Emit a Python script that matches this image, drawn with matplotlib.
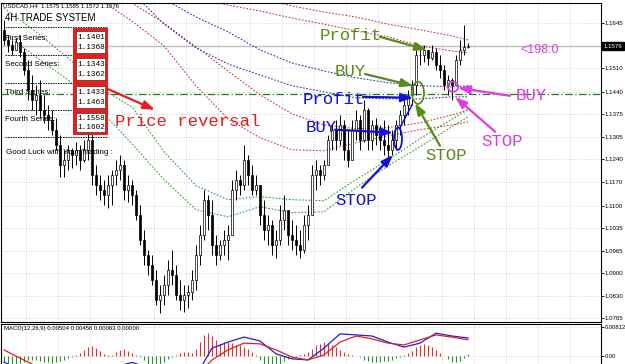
"""
USDCAD H4 screenshot remake: candles, dotted MA bands, hand-drawn trade notes
and a MACD pane underneath. Layout is pinned in pixels to a 625x364 canvas.
"""
import numpy as np
import matplotlib
matplotlib.use("Agg")
import matplotlib.pyplot as plt
from matplotlib.lines import Line2D
from matplotlib.patches import Ellipse, Rectangle
from matplotlib.transforms import blended_transform_factory

plt.rcParams["font.family"] = ["Liberation Sans", "DejaVu Sans"]

W, H = 625, 364

# ---- price bars (one per H4 candle) ----
first_open = 1.1625
highs = [
    1.1654, 1.1610, 1.1595, 1.1601, 1.1610, 1.1571, 1.1535, 1.1490, 1.1461, 1.1476,
    1.1431, 1.1401, 1.1386, 1.1362, 1.1311, 1.1267, 1.1281, 1.1273, 1.1291, 1.1281,
    1.1296, 1.1321, 1.1332, 1.1222, 1.1192, 1.1177, 1.1192, 1.1207, 1.1237, 1.1252,
    1.1237, 1.1192, 1.1177, 1.1147, 1.1102, 1.1028, 1.0968, 1.0953, 1.0909, 1.0864,
    1.0894, 1.0938, 1.0968, 1.0923, 1.0879, 1.0864, 1.0864, 1.0909, 1.0983, 1.1043,
    1.1147, 1.1132, 1.1117, 1.1013, 1.0998, 1.1028, 1.1043, 1.1177, 1.1207, 1.1192,
    1.1281, 1.1252, 1.1222, 1.1192, 1.1162, 1.1117, 1.1073, 1.1058, 1.1028, 1.1102,
    1.1132, 1.1087, 1.1058, 1.1043, 1.1028, 1.1073, 1.1102, 1.1222, 1.1237, 1.1222,
    1.1237, 1.1311, 1.1341, 1.1356, 1.1371, 1.1356, 1.1326, 1.1356, 1.1386, 1.1371,
    1.1416, 1.1392, 1.1356, 1.1362, 1.1341, 1.1356, 1.1341, 1.1326, 1.1356, 1.1386,
    1.1416, 1.1446, 1.1476, 1.1565, 1.1571, 1.1580, 1.1565, 1.1580, 1.1571, 1.1550,
    1.1520, 1.1490, 1.1482, 1.1550, 1.1595, 1.1639, 1.1585,
]
lows = [
    1.1580, 1.1559, 1.1550, 1.1565, 1.1544, 1.1490, 1.1416, 1.1386, 1.1371, 1.1362,
    1.1347, 1.1326, 1.1311, 1.1267, 1.1186, 1.1186, 1.1207, 1.1213, 1.1222, 1.1207,
    1.1231, 1.1237, 1.1162, 1.1132, 1.1117, 1.1102, 1.1093, 1.1102, 1.1162, 1.1177,
    1.1117, 1.1111, 1.1102, 1.1058, 1.0983, 1.0923, 1.0894, 1.0864, 1.0804, 1.0781,
    1.0804, 1.0834, 1.0864, 1.0819, 1.0789, 1.0784, 1.0796, 1.0819, 1.0849, 1.0923,
    1.0998, 1.1028, 1.0953, 1.0923, 1.0938, 1.0953, 1.0938, 1.1013, 1.1117, 1.1132,
    1.1147, 1.1162, 1.1132, 1.1132, 1.1043, 1.0998, 1.0983, 1.0953, 1.0945, 1.0983,
    1.1028, 1.0983, 1.0968, 1.0953, 1.0945, 1.0960, 1.0998, 1.1073, 1.1147, 1.1162,
    1.1177, 1.1222, 1.1267, 1.1267, 1.1281, 1.1237, 1.1216, 1.1237, 1.1296, 1.1267,
    1.1290, 1.1267, 1.1267, 1.1281, 1.1267, 1.1252, 1.1237, 1.1252, 1.1267, 1.1311,
    1.1341, 1.1371, 1.1401, 1.1431, 1.1520, 1.1529, 1.1520, 1.1535, 1.1505, 1.1482,
    1.1446, 1.1431, 1.1416, 1.1461, 1.1520, 1.1550, 1.1572,
]
closes = [
    1.1595, 1.1580, 1.1565, 1.1589, 1.1559, 1.1505, 1.1446, 1.1416, 1.1431, 1.1386,
    1.1371, 1.1356, 1.1326, 1.1281, 1.1222, 1.1237, 1.1267, 1.1252, 1.1267, 1.1237,
    1.1267, 1.1296, 1.1192, 1.1162, 1.1147, 1.1132, 1.1162, 1.1192, 1.1207, 1.1222,
    1.1147, 1.1162, 1.1132, 1.1073, 1.0998, 1.0953, 1.0923, 1.0879, 1.0819, 1.0834,
    1.0864, 1.0909, 1.0894, 1.0834, 1.0819, 1.0834, 1.0843, 1.0879, 1.0953, 1.1013,
    1.1117, 1.1073, 1.0983, 1.0953, 1.0983, 1.0998, 1.1013, 1.1147, 1.1177, 1.1162,
    1.1237, 1.1192, 1.1147, 1.1162, 1.1073, 1.1028, 1.1043, 1.0983, 1.0998, 1.1058,
    1.1087, 1.1013, 1.0998, 1.0983, 1.0968, 1.1043, 1.1073, 1.1192, 1.1207, 1.1192,
    1.1222, 1.1296, 1.1326, 1.1296, 1.1341, 1.1267, 1.1237, 1.1326, 1.1356, 1.1296,
    1.1386, 1.1296, 1.1341, 1.1311, 1.1296, 1.1281, 1.1267, 1.1296, 1.1341, 1.1371,
    1.1401, 1.1431, 1.1461, 1.1550, 1.1550, 1.1565, 1.1541, 1.1559, 1.1520, 1.1505,
    1.1461, 1.1476, 1.1461, 1.1535, 1.1565, 1.1575, 1.1576,
]

# ---- dotted MA bands, sampled every 8 bars ----
band_bars = [0, 8, 16, 24, 32, 40, 48, 56, 64, 72, 80, 88, 96, 104, 112, 116]
red_top1 = [1.2161, 1.2101, 1.2042, 1.1982, 1.1923, 1.1869, 1.1818, 1.1768,
            1.1723, 1.1696, 1.1678, 1.1663, 1.1642, 1.1625, 1.1607, 1.1595]
red_top2 = [1.2072, 1.2012, 1.1952, 1.1893, 1.1833, 1.1774, 1.1720, 1.1699,
            1.1681, 1.1660, 1.1642, 1.1622, 1.1604, 1.1577, 1.1562, 1.1556]
blue_up = [1.2042, 1.1982, 1.1923, 1.1848, 1.1780, 1.1717, 1.1663, 1.1619,
           1.1565, 1.1526, 1.1502, 1.1482, 1.1467, 1.1458, 1.1455, 1.1458]
blue_dn = [1.2012, 1.1946, 1.1878, 1.1803, 1.1738, 1.1642, 1.1571, 1.1523,
           1.1490, 1.1458, 1.1440, 1.1422, 1.1419, 1.1419, 1.1425, 1.1425]
red_lo2 = [1.1982, 1.1908, 1.1833, 1.1768, 1.1705, 1.1645, 1.1574, 1.1502,
           1.1431, 1.1374, 1.1341, 1.1330, 1.1333, 1.1347, 1.1371, 1.1386]
red_lo1 = [1.1923, 1.1848, 1.1774, 1.1714, 1.1651, 1.1577, 1.1458, 1.1359,
           1.1303, 1.1267, 1.1264, 1.1288, 1.1309, 1.1327, 1.1341, 1.1350]
green_up = [1.1690, 1.1619, 1.1541, 1.1452, 1.1395, 1.1261, 1.1160, 1.1118,
            1.1127, 1.1118, 1.1115, 1.1178, 1.1237, 1.1300, 1.1359, 1.1386]
green_dn = [1.1616, 1.1544, 1.1476, 1.1386, 1.1285, 1.1178, 1.1088, 1.1067,
            1.1097, 1.1079, 1.1082, 1.1154, 1.1219, 1.1276, 1.1336, 1.1365]

entry_level = 1.1433
bid = 1.1576

price_ticks = [1.1645, 1.1510, 1.1440, 1.1375, 1.1305, 1.1240, 1.1170,
               1.1100, 1.1035, 1.0965, 1.0900, 1.0830, 1.0765]

# ---- MACD(12,26,9) ----
macd_bars = [0, 4, 8, 12, 16, 20, 24, 28, 32, 36, 40, 44, 48, 52, 56,
             60, 64, 68, 72, 76, 80, 84, 88, 92, 96, 100, 104, 108, 112, 116]
macd_main = [-0.0017, -0.0039, -0.0062, -0.0081, -0.0090, -0.0081, -0.0062, -0.0030,
             -0.0018, -0.0032, -0.0081, -0.0095, -0.0056, 0.0022, 0.0039, 0.0053,
             0.0042, 0.0006, -0.0008, -0.0011, 0.0022, 0.0062, 0.0059, 0.0056,
             0.0039, 0.0025, 0.0036, 0.0064, 0.0056, 0.00504]
macd_signal = [0.0017, -0.0006, -0.0028, -0.0050, -0.0067, -0.0076, -0.0073, -0.0040,
               -0.0024, -0.0030, -0.0062, -0.0073, -0.0056, -0.0011, 0.0017, 0.0036,
               0.0034, 0.0017, -0.0003, -0.0011, 0.0003, 0.0039, 0.0056, 0.0048,
               0.0036, 0.0031, 0.0045, 0.0059, 0.0053, 0.00456]
osma = [
    -0.0018, -0.0022, -0.0024, -0.0023, -0.0020, -0.0016, -0.0012, -0.0010, -0.0012, -0.0014,
    -0.0016, -0.0018, -0.0020, -0.0018, -0.0014, -0.0010, -0.0006, -0.0003, 0.0003, 0.0008,
    0.0016, 0.0024, 0.0028, 0.0022, 0.0014, 0.0006, 0.0002, 0.0004, 0.0010, 0.0018,
    0.0020, 0.0015, 0.0008, 0.0002, -0.0004, -0.0012, -0.0022, -0.0028, -0.0030, -0.0026,
    -0.0018, -0.0008, -0.0002, 0.0004, 0.0008, 0.0012, 0.0010, 0.0008, 0.0020, 0.0040,
    0.0060, 0.0065, 0.0055, 0.0045, 0.0035, 0.0038, 0.0040, 0.0036, 0.0032, 0.0030,
    0.0026, 0.0020, 0.0012, 0.0002, -0.0010, -0.0025, -0.0032, -0.0034, -0.0030, -0.0022,
    -0.0014, -0.0008, -0.0004, -0.0002, 0.0002, 0.0006, 0.0010, 0.0020, 0.0030, 0.0035,
    0.0038, 0.0036, 0.0030, 0.0024, 0.0016, 0.0010, 0.0006, 0.0003, 0.0001, -0.0003,
    -0.0010, -0.0014, -0.0016, -0.0017, -0.0016, -0.0015, -0.0013, -0.0010, -0.0006, -0.0002,
    0.0002, 0.0008, 0.0014, 0.0024, 0.0032, 0.0034, 0.0030, 0.0024, 0.0016, 0.0008,
    0.0000, -0.0008, -0.0016, -0.0018, -0.0014, -0.0006, 0.0006,
]

series_boxes = [("First Series:", "1.1401", "1.1368"),
                ("Second Series:", "1.1343", "1.1362"),
                ("Third Series:", "1.1433", "1.1463"),
                ("Fourth Series:", "1.1558", "1.1602")]

GREEN = "#5a8a1e"
BLUE = "#1010d8"
MAGENTA = "#e03be0"
RED = "#e41e1e"
GRID = "#c4c4c4"
NOTE_FONT = "Liberation Mono"
TICK_SIZE = 4.4


def fpx(x, y):
    """pixel position on the 625x364 canvas -> figure fraction"""
    return x / W, 1 - y / H


fig = plt.figure(figsize=(W / 100, H / 100), dpi=100)
ax = fig.add_axes([1 / W, 1 - 322 / H, 600 / W, 319 / H])
mx = fig.add_axes([1 / W, 0, 600 / W, 40 / H])

xlim = (-0.75, 149.25)
grid_x = np.arange(5.5, 149, 8)

# ---------- price pane ----------
n = len(closes)
idx = np.arange(n)
opens = np.array([first_open] + closes[:-1])
cl = np.array(closes)
up = cl >= opens

ax.vlines(idx, lows, highs, color="black", lw=0.7, zorder=3)
ax.bar(idx[up], (cl - opens)[up], bottom=opens[up], width=0.6,
       facecolor="white", edgecolor="black", lw=0.5, zorder=4)
ax.bar(idx[~up], (cl - opens)[~up], bottom=opens[~up], width=0.6,
       facecolor="black", edgecolor="black", lw=0.5, zorder=4)

dot = (0, (1.6, 1.6))
for vals, col in [(red_top1, "#c0392b"), (red_top2, "#c0392b"),
                  (red_lo1, "#c0392b"), (red_lo2, "#c0392b"),
                  (blue_up, "#2a2ab8"), (blue_dn, "#2a2ab8"),
                  (green_up, "#2f9a2f"), (green_dn, "#2f9a2f")]:
    ax.plot(band_bars, vals, color=col, lw=0.75, linestyle=dot, zorder=2)

ax.axhline(entry_level, color="#1e7a1e", lw=0.9, linestyle=(0, (6, 2, 1, 2)), zorder=2)
ax.axhline(bid, color="#bdbdbd", lw=1.0, zorder=1.5)

ax.set_xlim(*xlim)
ax.set_ylim(1.0753, 1.1705)
ax.set_xticks(grid_x)
ax.set_yticks(price_ticks)
ax.set_yticklabels([f"{v:.4f}" for v in price_ticks])
ax.yaxis.tick_right()
ax.tick_params(axis="y", length=2, width=0.6, labelsize=TICK_SIZE, pad=0.8)
ax.tick_params(axis="x", length=0, labelbottom=False)
ax.grid(True, color=GRID, lw=0.6, linestyle=(0, (1, 2)), zorder=0)
for s in ax.spines.values():
    s.set_color("black")
    s.set_linewidth(0.8)

ytrans = blended_transform_factory(ax.transAxes, ax.transData)
ax.text(1.004, bid, f"{bid:.4f}", transform=ytrans, fontsize=TICK_SIZE, color="white",
        va="center", ha="left",
        bbox=dict(boxstyle="square,pad=0.25", fc="black", ec="black"), zorder=10)

# ---------- hand-drawn trade notes ----------
arrow = dict(arrowstyle="-|>,head_length=0.7,head_width=0.25", lw=1.6,
             shrinkA=0, shrinkB=0)


def note(text, pos, tail, head, color, size=12.5, family=NOTE_FONT):
    ax.text(pos[0], pos[1], text, color=color, fontsize=size, fontfamily=family,
            va="center", ha="left", zorder=8)
    if tail is not None:
        ax.annotate("", xy=head, xytext=tail,
                    arrowprops=dict(arrow, color=color), zorder=9)


note("Profit", (79.0, 1.1607), (94.0, 1.1604), (105.75, 1.1565), GREEN)
note("BUY", (82.75, 1.1502), (90.25, 1.1493), (102.25, 1.1458), GREEN)
note("STOP", (105.25, 1.1249), (109.0, 1.1279), (102.75, 1.1407), GREEN)
note("Profit", (74.75, 1.1416), (89.75, 1.1425), (102.25, 1.1422), BLUE)
note("BUY", (75.5, 1.1332), (82.75, 1.1327), (97.25, 1.1318), BLUE)
note("STOP", (82.75, 1.1117), (89.5, 1.1154), (97.25, 1.1252), BLUE)
note("BUY", (128.0, 1.1428), (126.5, 1.1428), (113.5, 1.1452), MAGENTA)
note("STOP", (119.25, 1.1291), (122.75, 1.1321), (112.75, 1.1425), MAGENTA)
note("Price reversal", (27.75, 1.1350), (25.25, 1.1452), (37.75, 1.1386), RED)
note("<198:0", (129.0, 1.1565), None, None, MAGENTA, size=9,
     family="Liberation Sans")

ax.plot([99, 102], [1.1333, 1.1401], color=BLUE, lw=1.1, zorder=8)
for (cx, cy, w, h, col) in [(103.5, 1.1437, 3.0, 0.0066, GREEN),
                            (98.5, 1.1300, 2.0, 0.0066, BLUE),
                            (112.25, 1.1455, 2.6, 0.0030, MAGENTA)]:
    ax.add_patch(Ellipse((cx, cy), w, h, fill=False, ec=col, lw=1.3, zorder=8))

# ---------- indicator text panel (top-left) ----------
fig.text(*fpx(3, 6), "USDCAD,H4  1.1575 1.1585 1.1572 1.1576", fontsize=4.3,
         va="center", zorder=12)
fig.text(*fpx(5, 18), "4H TRADE SYSTEM", fontsize=7, va="center", zorder=12)
for yy in (27, 55, 83, 110, 137):
    fig.add_artist(Line2D([5 / W, 107 / W], [1 - yy / H] * 2, color="black",
                          lw=0.6, linestyle=(0, (2, 1)), zorder=11))
fig.add_artist(Rectangle(fpx(73, 135), 35 / W, 107 / H, transform=fig.transFigure,
                         fc="#ee1b1b", ec="none", zorder=12))
for k, (label, a, b) in enumerate(series_boxes):
    top = [31, 58, 86, 113][k]
    hgt = [22, 22, 22, 19][k]
    fig.text(*fpx(5, [38, 65, 92, 120][k]), label, fontsize=5.8, va="center",
             zorder=12)
    fig.add_artist(Rectangle(fpx(76, top + hgt), 29 / W, hgt / H,
                             transform=fig.transFigure, fc="white", ec="#333333",
                             lw=0.5, zorder=13))
    fig.text(*fpx(77, top + hgt * 0.28), a, fontsize=5.6, va="center",
             fontfamily=NOTE_FONT, zorder=14)
    fig.text(*fpx(77, top + hgt * 0.74), b, fontsize=5.6, va="center",
             fontfamily=NOTE_FONT, zorder=14)
fig.text(*fpx(6, 152), "Good Luck with Your Trading :", fontsize=5.8,
         va="center", zorder=12)

# ---------- MACD pane ----------
osma = np.array(osma)
pos = osma >= 0
mx.vlines(idx[pos], 0, osma[pos], color="#e03030", lw=0.8, zorder=3)
mx.vlines(idx[~pos], 0, osma[~pos], color="#2a8f2a", lw=0.8, zorder=3)
mx.plot(macd_bars, macd_main, color="#2020d0", lw=0.9, zorder=4)
mx.plot(macd_bars, macd_signal, color="#e02020", lw=0.9, zorder=4)
mx.set_xlim(*xlim)
mx.set_ylim(-0.00224, 0.00896)
mx.set_xticks(grid_x)
mx.set_yticks([0.0, 0.00812])
mx.set_yticklabels(["0.00", "0.00812"])
mx.yaxis.tick_right()
mx.tick_params(axis="y", length=2, width=0.6, labelsize=4.2, pad=0.8)
mx.tick_params(axis="x", length=0, labelbottom=False)
mx.grid(True, color=GRID, lw=0.6, linestyle=(0, (1, 2)), zorder=0)
for s in mx.spines.values():
    s.set_color("black")
    s.set_linewidth(0.8)
mx.spines["bottom"].set_visible(False)
mx.text(0.005, 0.0076, "MACD(12,26,9) 0.00504 0.00456 0.00063 0.00000",
        transform=blended_transform_factory(mx.transAxes, mx.transData),
        fontsize=4.3, va="center", zorder=6)

fig.savefig("out.png", dpi=100)
